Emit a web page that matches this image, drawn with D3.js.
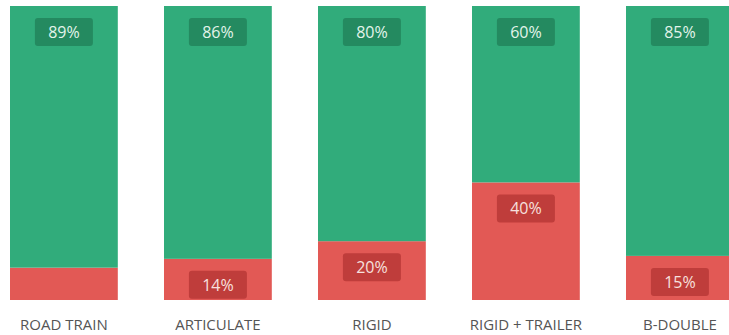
<!DOCTYPE html>
<html>
<head>
<meta charset="utf-8">
<script src="https://cdn.jsdelivr.net/npm/d3@7"></script>
<style>
  html, body { margin: 0; padding: 0; background: #fff; overflow: hidden; }
  svg { display: block; font-family: "Open Sans", "Noto Sans", sans-serif; }
</style>
</head>
<body>
<svg id="chart" width="729" height="335"></svg>
<script>
// Vehicle classes and share of compliant / non-compliant (percent)
const categories = ["ROAD TRAIN", "ARTICULATE", "RIGID", "RIGID + TRAILER", "B-DOUBLE"];
const passValues = [89, 86, 80, 60, 85];
const failValues = [11, 14, 20, 40, 15];
const minLabelValue = 12;

const colors = {
  pass: "#31ac7b", passBox: "#248a60", passText: "#e3f4ea",
  fail: "#e25955", failBox: "#bf3d3b", failText: "#f7e0de"
};

const svg = d3.select("#chart");
const step = 154, pad = 0.3;
const x = d3.scaleBand()
  .domain(categories)
  .range([10, 10 + step * (categories.length - pad)])
  .paddingInner(pad)
  .paddingOuter(0);
const y = d3.scaleLinear().domain([0, 100]).range([300, 6]);

const rows = categories.map((c, i) => ({ cat: c, pass: passValues[i], fail: failValues[i] }));
const stacked = d3.stack().keys(["fail", "pass"])(rows);

const layers = svg.selectAll("g.layer")
  .data(stacked)
  .join("g")
  .attr("class", "layer")
  .attr("fill", d => colors[d.key]);

layers.selectAll("rect")
  .data(d => d)
  .join("rect")
  .attr("x", d => x(d.data.cat))
  .attr("width", x.bandwidth())
  .attr("y", d => y(d[1]))
  .attr("height", d => y(d[0]) - y(d[1]));

// Value labels in rounded boxes near the top of each segment
const boxW = 58, boxH = 28;
const labels = [];
stacked.forEach(layer => layer.forEach(s => {
  const v = s.data[layer.key];
  if (v >= minLabelValue) labels.push({ key: layer.key, cat: s.data.cat, top: y(s[1]), v });
}));

const lg = svg.selectAll("g.lbl")
  .data(labels)
  .join("g")
  .attr("class", "lbl")
  .attr("transform", d => `translate(${x(d.cat) + x.bandwidth() / 2},${d.top + 12})`);

lg.append("rect")
  .attr("x", -boxW / 2)
  .attr("width", boxW)
  .attr("height", boxH)
  .attr("rx", 3)
  .attr("fill", d => d.key === "pass" ? colors.passBox : colors.failBox);

lg.append("text")
  .attr("y", boxH / 2)
  .attr("dy", "0.36em")
  .attr("text-anchor", "middle")
  .attr("font-size", 16)
  .attr("fill", d => d.key === "pass" ? colors.passText : colors.failText)
  .text(d => d.v + "%");

// Category axis
const axis = svg.append("g")
  .attr("transform", "translate(0,300)")
  .call(d3.axisBottom(x).tickSize(0).tickPadding(19));
axis.select(".domain").remove();
axis.selectAll("text")
  .attr("font-size", 15)
  .attr("font-family", "'Open Sans', sans-serif")
  .attr("fill", "#555");
</script>
</body>
</html>
